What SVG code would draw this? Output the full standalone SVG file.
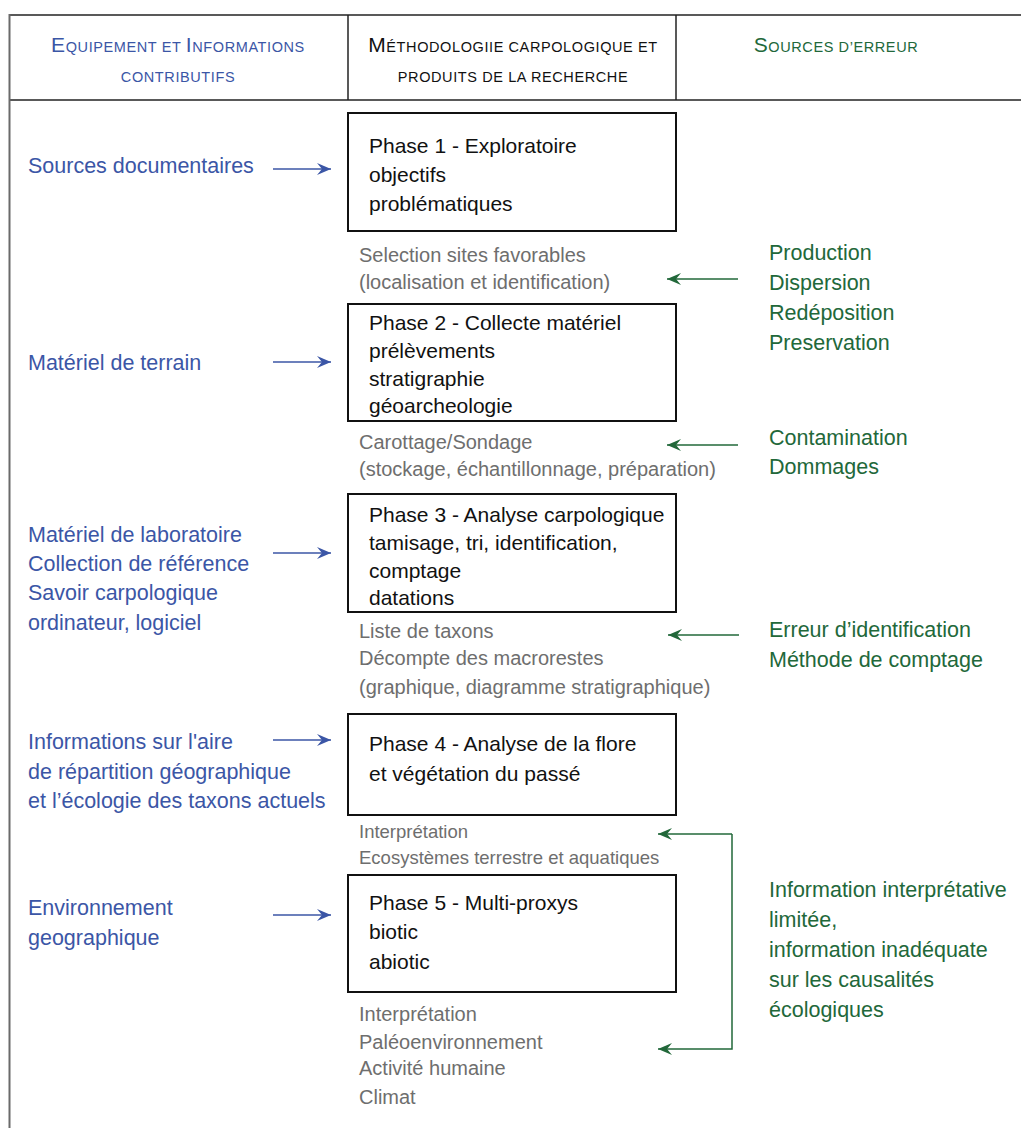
<svg xmlns="http://www.w3.org/2000/svg" width="1021" height="1128" viewBox="0 0 1021 1128">
<style>
text{font-family:"Liberation Sans",Arial,sans-serif}
.hd{font-size:14.5px;letter-spacing:0.6px}
.big{font-size:21px}
.blue{fill:#3b56a6;font-size:21.5px}
.green{fill:#22683a;font-size:21.5px}
.grey{fill:#6e6e6e;font-size:20px}
.grey2{fill:#6e6e6e;font-size:18.5px}
.ph{fill:#111;font-size:21px}
.box{fill:#fff;stroke:#111;stroke-width:2}
.tl{stroke:#222;stroke-width:1.5;fill:none}
.ab{stroke:#3b56a6;stroke-width:1.5;fill:none}
.ag{stroke:#22683a;stroke-width:1.5;fill:none}
</style>
<defs>
<marker id="mb" markerUnits="userSpaceOnUse" markerWidth="16" markerHeight="14" viewBox="-15 -7 16 14" refX="0" refY="0" orient="auto">
<path d="M0,0 L-14,-6 L-9,0 L-14,6 Z" fill="#3b56a6"/>
</marker>
<marker id="mg" markerUnits="userSpaceOnUse" markerWidth="16" markerHeight="14" viewBox="-15 -7 16 14" refX="0" refY="0" orient="auto">
<path d="M0,0 L-14,-6 L-9,0 L-14,6 Z" fill="#22683a"/>
</marker>
</defs>
<rect x="0" y="0" width="1021" height="1128" fill="#fff"/>

<g id="table">
<line class="tl" x1="9" y1="15" x2="1021" y2="15"/>
<line class="tl" x1="9" y1="100" x2="1021" y2="100" stroke="#444" stroke-width="2"/>
<line x1="9.5" y1="14" x2="9.5" y2="1128" stroke="#6a6a6a" stroke-width="2"/>
<line class="tl" x1="348" y1="15" x2="348" y2="100"/>
<line class="tl" x1="676" y1="15" x2="676" y2="100"/>
</g>

<g id="header-equipement">
<text class="hd" x="178" y="52" text-anchor="middle" fill="#3b56a6"><tspan class="big">E</tspan>QUIPEMENT ET <tspan class="big">I</tspan>NFORMATIONS</text>
<text class="hd" x="178" y="82" text-anchor="middle" fill="#3b56a6">CONTRIBUTIFS</text>
</g>
<g id="header-methodologie">
<text class="hd" x="513" y="52" text-anchor="middle" fill="#111"><tspan class="big">M</tspan>ÉTHODOLOGIIE CARPOLOGIQUE ET</text>
<text class="hd" x="513" y="82" text-anchor="middle" fill="#111">PRODUITS DE LA RECHERCHE</text>
</g>
<g id="header-sources">
<text class="hd" x="836" y="52" text-anchor="middle" fill="#22683a"><tspan class="big">S</tspan>OURCES D’ERREUR</text>
</g>

<g id="phase1">
<rect class="box" x="348" y="113" width="328" height="118"/>
<text class="ph" x="369" y="153">Phase 1 - Exploratoire</text>
<text class="ph" x="369" y="182">objectifs</text>
<text class="ph" x="369" y="211">problématiques</text>
</g>
<g id="phase2">
<rect class="box" x="348" y="304" width="328" height="117"/>
<text class="ph" x="369" y="330">Phase 2 - Collecte matériel</text>
<text class="ph" x="369" y="358">prélèvements</text>
<text class="ph" x="369" y="386">stratigraphie</text>
<text class="ph" x="369" y="413">géoarcheologie</text>
</g>
<g id="phase3">
<rect class="box" x="348" y="494" width="328" height="118"/>
<text class="ph" x="369" y="522">Phase 3 - Analyse carpologique</text>
<text class="ph" x="369" y="550">tamisage, tri, identification,</text>
<text class="ph" x="369" y="578">comptage</text>
<text class="ph" x="369" y="605">datations</text>
</g>
<g id="phase4">
<rect class="box" x="348" y="714" width="328" height="101"/>
<text class="ph" x="369" y="751">Phase 4 - Analyse de la flore</text>
<text class="ph" x="369" y="781">et végétation du passé</text>
</g>
<g id="phase5">
<rect class="box" x="348" y="875" width="328" height="117"/>
<text class="ph" x="369" y="910">Phase 5 - Multi-proxys</text>
<text class="ph" x="369" y="939">biotic</text>
<text class="ph" x="369" y="969">abiotic</text>
</g>

<g id="product1">
<text class="grey" x="359" y="262">Selection sites favorables</text>
<text class="grey" x="359" y="289">(localisation et identification)</text>
</g>
<g id="product2">
<text class="grey" x="359" y="449">Carottage/Sondage</text>
<text class="grey" x="359" y="476">(stockage, échantillonnage, préparation)</text>
</g>
<g id="product3">
<text class="grey" x="359" y="638">Liste de taxons</text>
<text class="grey" x="359" y="665">Décompte des macrorestes</text>
<text class="grey" x="359" y="694">(graphique, diagramme stratigraphique)</text>
</g>
<g id="product4">
<text class="grey2" x="359" y="838">Interprétation</text>
<text class="grey2" x="359" y="864">Ecosystèmes terrestre et aquatiques</text>
</g>
<g id="product5">
<text class="grey" x="359" y="1021">Interprétation</text>
<text class="grey" x="359" y="1049">Paléoenvironnement</text>
<text class="grey" x="359" y="1075">Activité humaine</text>
<text class="grey" x="359" y="1104">Climat</text>
</g>

<g id="input1"><text class="blue" x="28" y="173">Sources documentaires</text></g>
<g id="input2"><text class="blue" x="28" y="370">Matériel de terrain</text></g>
<g id="input3">
<text class="blue" x="28" y="542">Matériel de laboratoire</text>
<text class="blue" x="28" y="571">Collection de référence</text>
<text class="blue" x="28" y="600">Savoir carpologique</text>
<text class="blue" x="28" y="630">ordinateur, logiciel</text>
</g>
<g id="input4">
<text class="blue" x="28" y="749">Informations sur l'aire</text>
<text class="blue" x="28" y="779">de répartition géographique</text>
<text class="blue" x="28" y="808">et l’écologie des taxons actuels</text>
</g>
<g id="input5">
<text class="blue" x="28" y="915">Environnement</text>
<text class="blue" x="28" y="945">geographique</text>
</g>

<g id="error1">
<text class="green" x="769" y="260">Production</text>
<text class="green" x="769" y="290">Dispersion</text>
<text class="green" x="769" y="320">Redéposition</text>
<text class="green" x="769" y="350">Preservation</text>
</g>
<g id="error2">
<text class="green" x="769" y="445">Contamination</text>
<text class="green" x="769" y="474">Dommages</text>
</g>
<g id="error3">
<text class="green" x="769" y="637">Erreur d’identification</text>
<text class="green" x="769" y="667">Méthode de comptage</text>
</g>
<g id="error4">
<text class="green" x="769" y="897">Information interprétative</text>
<text class="green" x="769" y="927">limitée,</text>
<text class="green" x="769" y="957">information inadéquate</text>
<text class="green" x="769" y="987">sur les causalités</text>
<text class="green" x="769" y="1017">écologiques</text>
</g>

<g id="connectors">
<line class="ab" x1="273" y1="169" x2="331" y2="169" marker-end="url(#mb)"/>
<line class="ab" x1="273" y1="362" x2="331" y2="362" marker-end="url(#mb)"/>
<line class="ab" x1="273" y1="553" x2="331" y2="553" marker-end="url(#mb)"/>
<line class="ab" x1="273" y1="740" x2="331" y2="740" marker-end="url(#mb)"/>
<line class="ab" x1="273" y1="915" x2="331" y2="915" marker-end="url(#mb)"/>
<line class="ag" x1="738" y1="279" x2="667" y2="279" marker-end="url(#mg)"/>
<line class="ag" x1="738" y1="445" x2="667" y2="445" marker-end="url(#mg)"/>
<line class="ag" x1="739" y1="635" x2="668" y2="635" marker-end="url(#mg)"/>
<polyline class="ag" points="732,834 732,1049 658,1049" marker-end="url(#mg)"/>
<line class="ag" x1="732" y1="834" x2="658" y2="834" marker-end="url(#mg)"/>
</g>
</svg>
